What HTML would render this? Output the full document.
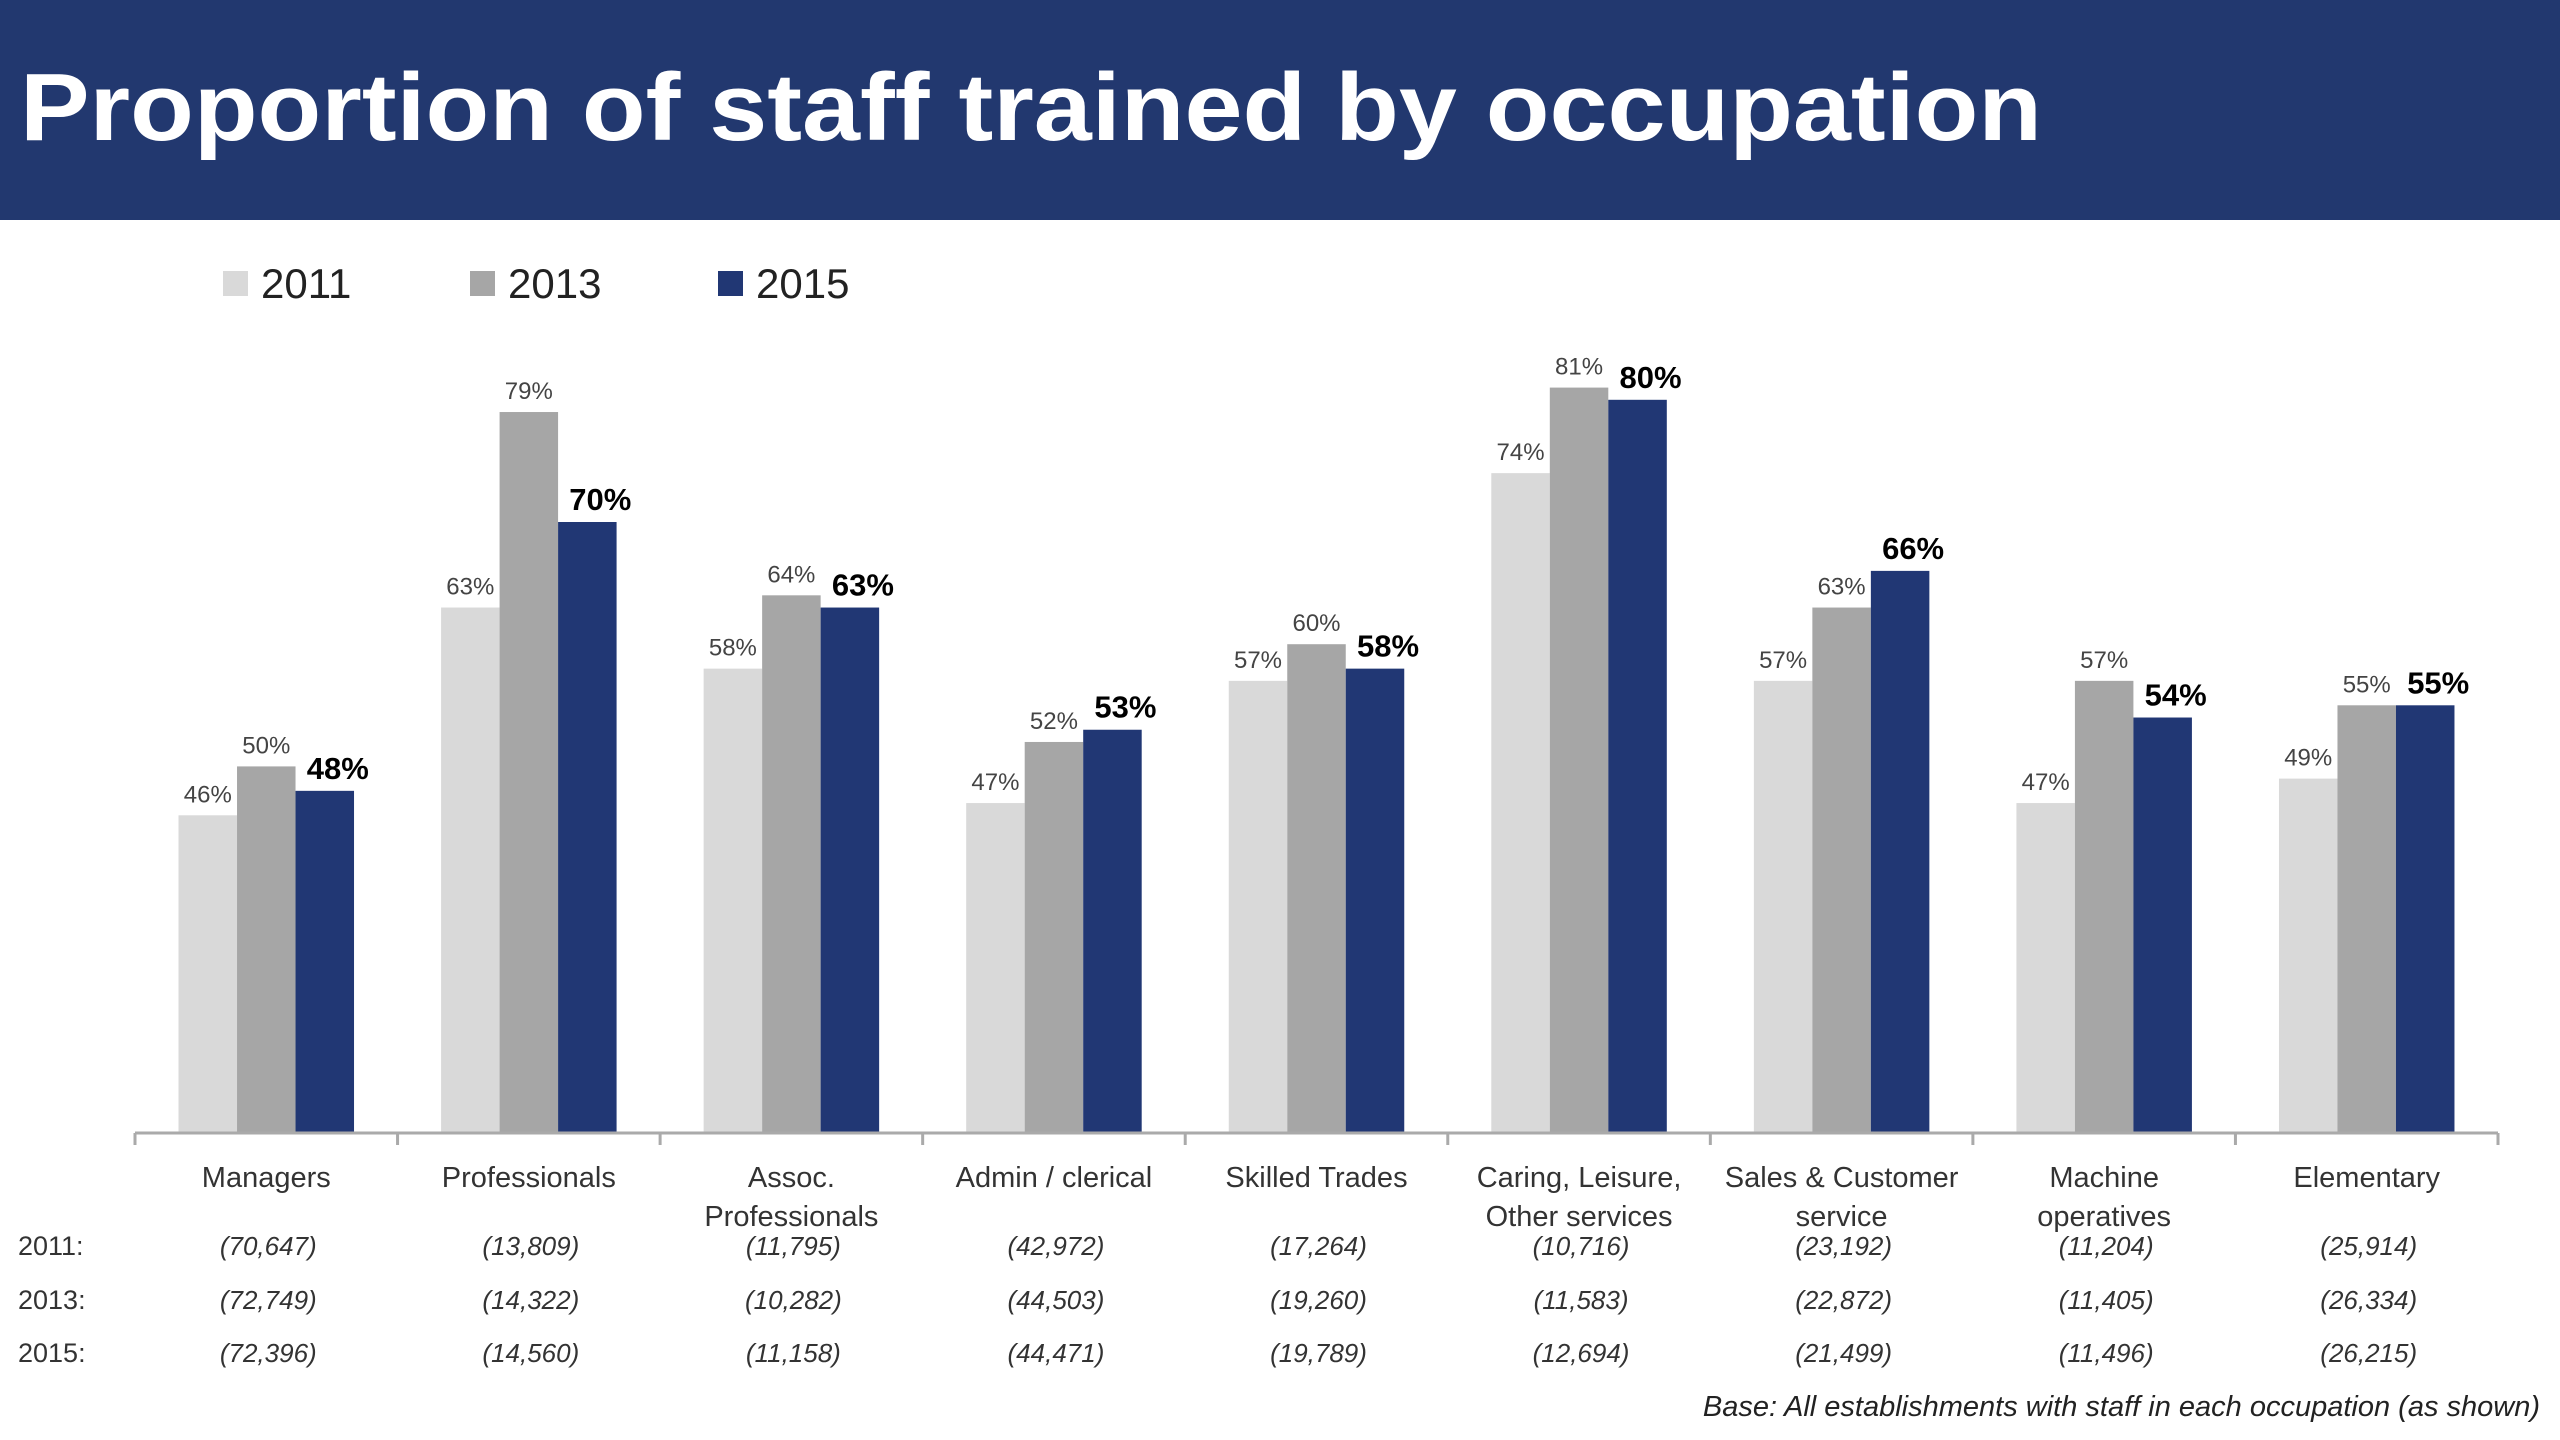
<!DOCTYPE html>
<html><head><meta charset="utf-8">
<style>
html,body{margin:0;padding:0;background:#fff;}
svg{display:block;font-family:"Liberation Sans",sans-serif;}
</style></head>
<body>
<svg id="chart" width="2560" height="1440" viewBox="0 0 2560 1440">
  <rect x="0" y="0" width="2560" height="220" fill="#22386f"/>
  <text x="20" y="140" font-size="96" font-weight="bold" fill="#fff" textLength="2022" lengthAdjust="spacingAndGlyphs">Proportion of staff trained by occupation</text>
  <g id="legend"></g>
  <g id="bars"></g>
  <g id="labels"></g>
  <g id="axis"></g>
  <g id="bases"></g>
  <text x="2540" y="1416" font-size="29" font-style="italic" fill="#222" text-anchor="end">Base: All establishments with staff in each occupation (as shown)</text>
</svg>
<script>
const categories = [["Managers"],["Professionals"],["Assoc.","Professionals"],["Admin / clerical"],["Skilled Trades"],["Caring, Leisure,","Other services"],["Sales & Customer","service"],["Machine","operatives"],["Elementary"]];
const years = ["2011","2013","2015"];
const values2011 = [46,63,58,47,57,74,57,47,49];
const values2013 = [50,79,64,52,60,81,63,57,55];
const values2015 = [48,70,63,53,58,80,66,54,55];
const bases2011 = ["(70,647)","(13,809)","(11,795)","(42,972)","(17,264)","(10,716)","(23,192)","(11,204)","(25,914)"];
const bases2013 = ["(72,749)","(14,322)","(10,282)","(44,503)","(19,260)","(11,583)","(22,872)","(11,405)","(26,334)"];
const bases2015 = ["(72,396)","(14,560)","(11,158)","(44,471)","(19,789)","(12,694)","(21,499)","(11,496)","(26,215)"];

const NS = "http://www.w3.org/2000/svg";
const colors = ["#d9d9d9","#a6a6a6","#213774"];
const series = [values2011, values2013, values2015];
const baseRows = [bases2011, bases2013, bases2015];
const X0 = 135, X1 = 2498, AXIS_Y = 1133, YMIN = 20, PX_PER = 12.22;
const catW = (X1 - X0) / categories.length;
const barW = 58.5;
function xCenter(i){ return X0 + catW * (i + 0.5); }
function yPos(v){ return AXIS_Y - (v - YMIN) * PX_PER; }
function mk(tag, attrs, parent){ const e = document.createElementNS(NS, tag); for (const k in attrs) e.setAttribute(k, attrs[k]); parent.appendChild(e); return e; }

const legend = document.getElementById('legend');
const legX = [223, 470, 718];
years.forEach((y, s) => {
  const r = mk('rect', {x: legX[s], y: 271, width: 25, height: 25, fill: colors[s]}, legend);
  
  
  const t = mk('text', {x: legX[s] + 38, y: 298, 'font-size': 42, fill: '#222'}, legend);
  t.textContent = y;
  
  
});

const barsG = document.getElementById('bars');
const labG = document.getElementById('labels');
categories.forEach((c, i) => {
  const cx = xCenter(i);
  series.forEach((vals, s) => {
    const v = vals[i];
    const x = cx - 1.5 * barW + s * barW;
    const y = yPos(v);
    const r = mk('rect', {x: x, y: y, width: barW, height: AXIS_Y - y, fill: colors[s]}, barsG);
    
    
    const bold = s === 2;
    const t = mk('text', {x: x + barW / 2 + (bold ? 13 : 0), y: y - (bold ? 12 : 13), 'font-size': bold ? 31 : 24, 'font-weight': bold ? 'bold' : 'normal', fill: bold ? '#000' : '#444', 'text-anchor': 'middle'}, labG);
    t.textContent = v + '%';
    
    
  });
});

const axisG = document.getElementById('axis');
const al = mk('line', {x1: X0, y1: AXIS_Y, x2: X1, y2: AXIS_Y, stroke: '#aaa', 'stroke-width': 3}, axisG);


for (let i = 0; i <= categories.length; i++) {
  const tx = X0 + catW * i;
  const tk = mk('line', {x1: tx, y1: AXIS_Y, x2: tx, y2: AXIS_Y + 12, stroke: '#aaa', 'stroke-width': 3}, axisG);
  
  
}
categories.forEach((c, i) => {
  c.forEach((line, j) => {
    const t = mk('text', {x: xCenter(i), y: 1187 + j * 39, 'font-size': 29, fill: '#333', 'text-anchor': 'middle'}, axisG);
    t.textContent = line;
    
    
  });
});

const basesG = document.getElementById('bases');
const rowY = [1255, 1309, 1362];
years.forEach((y, s) => {
  const t = mk('text', {x: 18, y: rowY[s], 'font-size': 27, fill: '#333'}, basesG);
  t.textContent = y + ':';
  
  
  baseRows[s].forEach((b, i) => {
    const bt = mk('text', {x: xCenter(i) + 2, y: rowY[s], 'font-size': 26, 'font-style': 'italic', fill: '#333', 'text-anchor': 'middle'}, basesG);
    bt.textContent = b;
    
    
  });
});
</script>
</body></html>
